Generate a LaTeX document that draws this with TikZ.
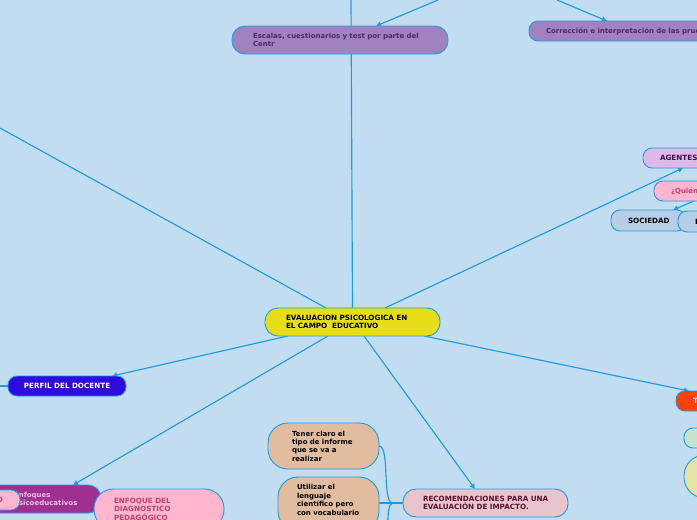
\documentclass[tikz,border=0pt]{standalone}
\usepackage{fontspec}
\setmainfont{DejaVu Sans}
\usetikzlibrary{arrows.meta}
\definecolor{bgc}{HTML}{C2DDF1}
\definecolor{linec}{HTML}{1F9BE3}
\definecolor{lila}{HTML}{A082C0}
\definecolor{lilat}{HTML}{54286E}
\definecolor{agf}{HTML}{DEB8E8}
\definecolor{agt}{HTML}{3C1050}
\definecolor{pinkf}{HTML}{FFB6CE}
\definecolor{pinkt}{HTML}{C84070}
\definecolor{bluef}{HTML}{B6CEE8}
\definecolor{redf}{HTML}{FF4000}
\definecolor{greenf}{HTML}{C6E4CC}
\definecolor{yelf}{HTML}{E8E4A6}
\definecolor{perf}{HTML}{2E0BDB}
\definecolor{purf}{HTML}{A03090}
\definecolor{purt}{HTML}{F0BEEC}
\definecolor{tanf}{HTML}{E2BC9E}
\definecolor{rosef}{HTML}{E8C4CC}
\definecolor{roset}{HTML}{5A1030}
\definecolor{mainf}{HTML}{E8DE18}
\pgfdeclarelayer{edges}
\pgfsetlayers{edges,main}
\tikzset{
  x=1pt,y=-1pt,
  lower/.style={font=\bfseries\fontsize{7}{8.4}\selectfont},
  upper/.style={font=\bfseries\fontsize{7.2}{8.4}\selectfont},
  mm/.style n args={5}{draw=linec,line width=0.9pt,anchor=north west,inner ysep=0pt,outer sep=0pt,
    minimum width=#1pt,minimum height=#2pt,rounded corners=#3pt,inner xsep=#4pt,
    text width=#1pt-2*#4pt,align=left,fill=#5},
  lnk/.style={draw=linec,line width=1.15pt},
  thick lnk/.style={draw=linec,line width=1.9pt},
  arr/.style={lnk,-{Latex[length=5pt,width=6pt]}},
}
\begin{document}
\begin{tikzpicture}
\useasboundingbox (0,0) rectangle (697,520);
\clip (0,0) rectangle (697,520);
% nodes
\node[mm={216}{28}{13}{21}{lila},lower,text=lilat] (escalas) at (232,26) {\mbox{Escalas, cuestionarios y test por parte del}\\Centr};
\node[mm={260}{20}{9}{17}{lila},lower,text=lilat] (correccion) at (529,21) {Corrección e interpretación de las pruebas};
\node[mm={100}{20}{9}{17}{agf},upper,text=agt] (agentes) at (643,148) {AGENTES};
\node[mm={100}{20}{9}{17}{pinkf},lower,text=pinkt] (quien) at (654,181) {¿Quién};
\node[mm={75}{21}{9}{17}{bluef},upper,text=black] (sociedad) at (611,210) {SOCIEDAD};
\node[mm={60}{21}{9}{17}{bluef},upper,text=black] (fnode) at (678,211) {F};
\node[mm={60}{20}{9}{17}{redf},upper,text=white] (tnode) at (676,391) {T};
\node[mm={60}{20}{9}{17}{greenf}] (gnode) at (684,428) {};
\node[mm={60}{43}{21}{17}{yelf}] (ynode) at (684,455) {};
\node[mm={118}{20}{9}{5}{perf},upper,text=white,align=center] (perfil) at (8,376) {PERFIL DEL DOCENTE};
\node[mm={131}{28}{13}{44}{purf},lower,text=purt] (enfoques) at (-30,485) {Enfoques\\\mbox{Psicoeducativos}};
\node[mm={60}{20}{9}{37}{pinkf},upper,text=pinkt] (pk) at (-40,490) {O};
\node[mm={130}{40}{19.5}{20}{pinkf},upper,text=pinkt] (diag) at (94,489) {ENFOQUE DEL\\DIAGNOSTICO\\PEDAGÓGICO};
\node[mm={111}{46}{20}{24}{tanf},lower,text=black] (tener) at (268,423) {Tener claro el\\tipo de informe\\que se va a\\realizar};
\node[mm={101}{54}{20}{19}{tanf},lower,text=black] (util) at (278,477) {Utilizar el\\lenguaje\\científico pero\\\mbox{con vocabulario}\\~};
\node[mm={165}{28}{13}{20}{rosef},upper,text=roset] (recom) at (403,489) {\mbox{RECOMENDACIONES PARA UNA}\\EVALUACIÓN DE IMPACTO.};
\node[mm={175}{28}{13}{21}{mainf},upper,text=black] (main) at (265,308) {\mbox{EVALUACION PSICOLOGICA EN}\\EL CAMPO\ \ EDUCATIVO};
% free ends
\coordinate (offA) at (0,128);
\coordinate (offB) at (351,0);
\coordinate (offC) at (438,0);
\coordinate (offD) at (557,0);
\coordinate (offE) at (0,386);
\coordinate (offF) at (388,521);
\coordinate (rj) at (392,503);
\begin{pgfonlayer}{edges}
\fill[bgc] (0,0) rectangle (697,520);
\draw[lnk] ([xshift=-26.5pt]main.north) -- (offA);
\draw[lnk] (main.north) -- (offB);
\draw[arr] ([xshift=32.5pt]main.north) -- ([xshift=40pt]agentes.south west);
\draw[arr] ([xshift=-64.5pt]main.south) -- ([xshift=104pt]perfil.north west);
\draw[arr] ([xshift=-24.5pt]main.south) -- ([xshift=-28pt]enfoques.north east);
\draw[arr] ([xshift=11.5pt]main.south) -- ([xshift=72pt]recom.north west);
\draw[arr] ([xshift=71.5pt]main.south) -- ([xshift=13pt]tnode.north west);
\draw[arr] (offC) -- ([xshift=144pt]escalas.north west);
\draw[arr] (offD) -- ([xshift=78pt]correccion.north west);
\draw[arr] ([xshift=40pt]quien.south west) -- ([xshift=62pt]sociedad.north west);
\draw[thick lnk] (offE) -- (perfil.west);
\draw[thick lnk] (util.east |- recom.west) -- (recom.west);
\draw[lnk] (tener.east) .. controls (390,446) and (382,500) .. (rj);
\draw[lnk] (offF) .. controls (388,512) and (389,505) .. (rj);
\end{pgfonlayer}
\end{tikzpicture}
\end{document}
